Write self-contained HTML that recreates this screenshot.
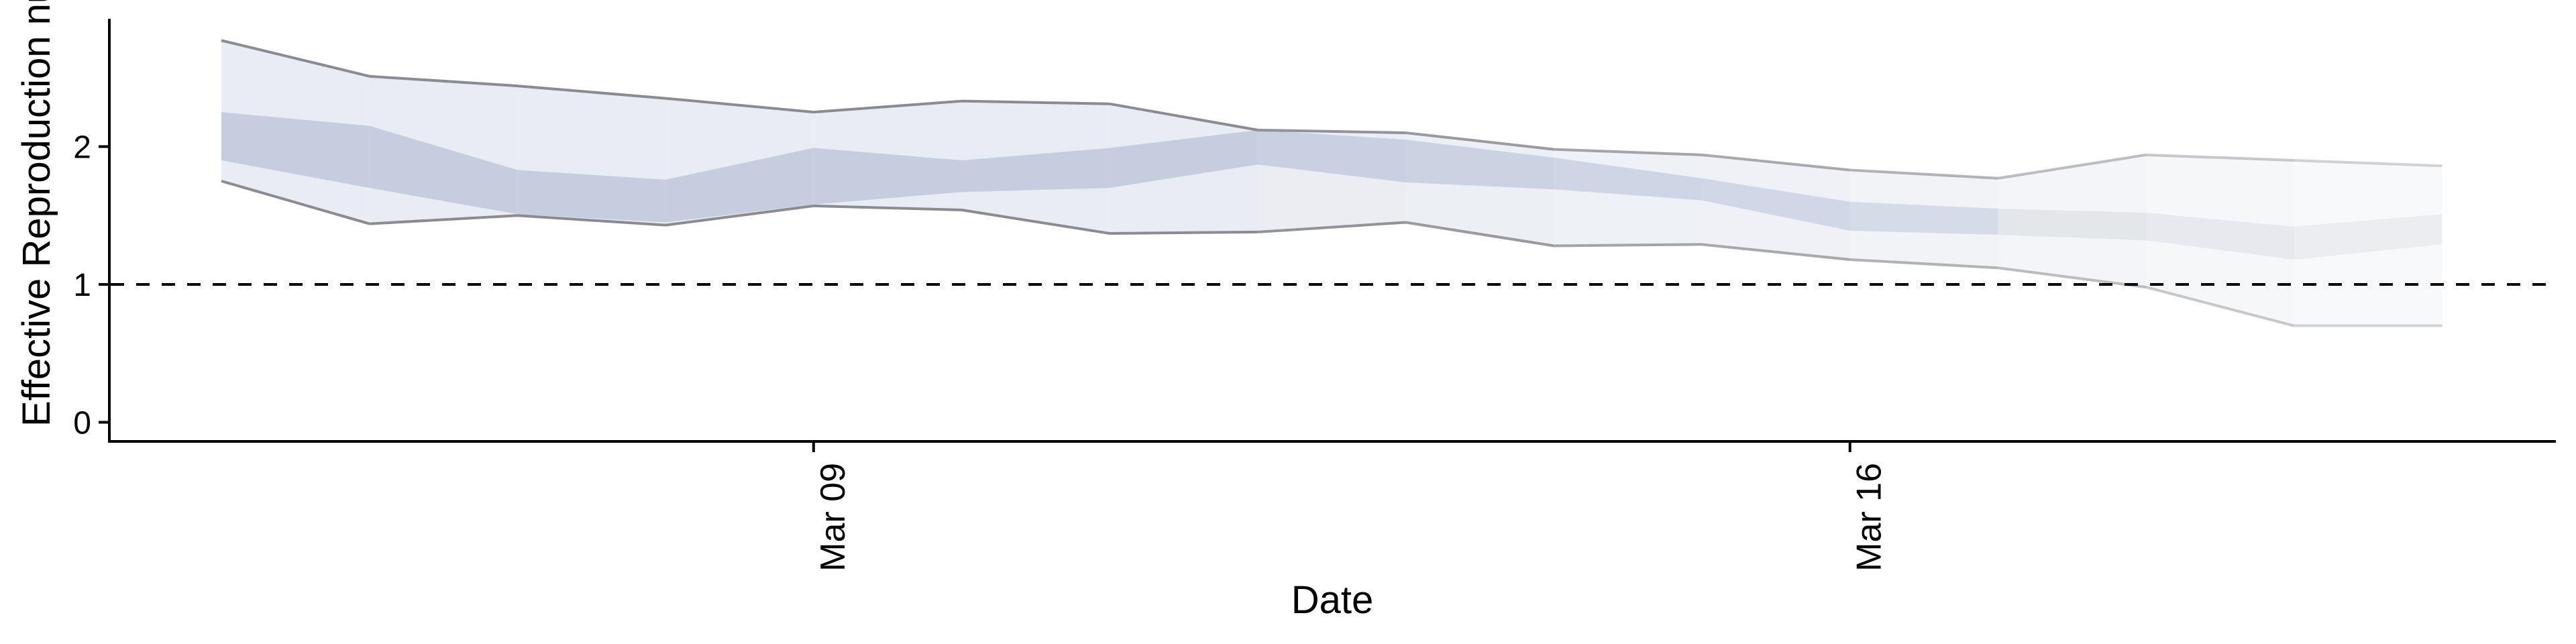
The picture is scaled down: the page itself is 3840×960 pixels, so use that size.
<!DOCTYPE html>
<html><head><meta charset="utf-8"><style>
html,body{margin:0;padding:0;background:#fff;}
svg{display:block;font-family:"Liberation Sans",sans-serif;}
</style></head><body>
<svg id="chart" width="3840" height="960" viewBox="0 0 3840 960" xmlns="http://www.w3.org/2000/svg">
<g id="bands"></g>
<g id="lines"></g>
<line id="refline" stroke="#000" stroke-width="4" stroke-dasharray="20,18"/>
<g id="axes"></g>
<text transform="translate(74,636) rotate(-90)" font-size="58" fill="#000">Effective Reproduction number</text>
<text x="1986" y="914" font-size="58" text-anchor="middle" fill="#000">Date</text>
</svg>
<script>
const dayIndex = [0,1,2,3,4,5,6,7,8,9,10,11,12,13,14,15]; // Mar 05 .. Mar 20
const upperOuter = [2.77,2.51,2.44,2.35,2.25,2.33,2.31,2.12,2.10,1.98,1.94,1.83,1.77,1.94,1.90,1.86];
const lowerOuter = [1.75,1.44,1.50,1.43,1.57,1.54,1.37,1.38,1.45,1.28,1.29,1.18,1.12,0.98,0.70,0.70];
const upperInner = [2.25,2.15,1.83,1.76,1.99,1.90,1.99,2.12,2.05,1.92,1.77,1.60,1.55,1.52,1.42,1.51];
const lowerInner = [1.90,1.70,1.51,1.45,1.58,1.67,1.70,1.87,1.74,1.69,1.61,1.39,1.36,1.32,1.18,1.29];
const segAlpha = [1,1,1,1,1,1,1,0.92,0.85,0.75,0.7,0.6,0.5,0.4,0.3];
const yTicks = [0,1,2];
const xTickDays = [4,11];
const xTickLabels = ["Mar 09","Mar 16"];

const NS="http://www.w3.org/2000/svg";
const x0=330, dx=220.7;
const X=d=>x0+d*dx;
const Y=v=>629.5-v*205.5;
function mk(tag,attrs,parent){const e=document.createElementNS(NS,tag);for(const k in attrs)e.setAttribute(k,attrs[k]);parent.appendChild(e);return e;}
const bands=document.getElementById('bands'), lines=document.getElementById('lines'), axes=document.getElementById('axes');
for(let i=0;i<dayIndex.length-1;i++){
  const a=segAlpha[i], d1=dayIndex[i], d2=dayIndex[i+1];
  const po=mk('polygon',{points:`${X(d1)},${Y(upperOuter[i])} ${X(d2)},${Y(upperOuter[i+1])} ${X(d2)},${Y(lowerOuter[i+1])} ${X(d1)},${Y(lowerOuter[i])}`,fill:'#e9ecf2','fill-opacity':a*0.95+0.05},bands);
  
  
  const pi=mk('polygon',{points:`${X(d1)},${Y(upperInner[i])} ${X(d2)},${Y(upperInner[i+1])} ${X(d2)},${Y(lowerInner[i+1])} ${X(d1)},${Y(lowerInner[i])}`,fill:a<0.6?'#d6d8e0':'#c6cddf','fill-opacity':a*0.9+0.1},bands);
  
  
  const lu=mk('line',{x1:X(d1),y1:Y(upperOuter[i]),x2:X(d2),y2:Y(upperOuter[i+1]),stroke:'#85868c','stroke-width':4,'stroke-opacity':a*0.85+0.1},lines);
  
  
  const ll=mk('line',{x1:X(d1),y1:Y(lowerOuter[i]),x2:X(d2),y2:Y(lowerOuter[i+1]),stroke:'#85868c','stroke-width':4,'stroke-opacity':a*0.85+0.1},lines);
  
  
}
const rl=document.getElementById('refline');
rl.setAttribute('x1',165);rl.setAttribute('x2',3810);rl.setAttribute('y1',Y(1));rl.setAttribute('y2',Y(1));
const ya=mk('line',{x1:163,y1:28,x2:163,y2:660,stroke:'#000','stroke-width':4},axes);


const xa=mk('line',{x1:161,y1:658,x2:3810,y2:658,stroke:'#000','stroke-width':4},axes);


yTicks.forEach(v=>{
  const t=mk('line',{x1:147,y1:Y(v),x2:163,y2:Y(v),stroke:'#000','stroke-width':4},axes);
  
  
  const l=mk('text',{x:136,y:Y(v)+17,'font-size':48,'text-anchor':'end',fill:'#000'},axes);
  l.textContent=String(v);
  
  
});
xTickDays.forEach((d,i)=>{
  const t=mk('line',{x1:X(d),y1:658,x2:X(d),y2:674,stroke:'#000','stroke-width':4},axes);
  
  
  const l=mk('text',{transform:`translate(${X(d)+46},690) rotate(-90)`,'font-size':52,'text-anchor':'end',fill:'#000'},axes);
  l.textContent=xTickLabels[i];
  
  
});
</script>
</body></html>
